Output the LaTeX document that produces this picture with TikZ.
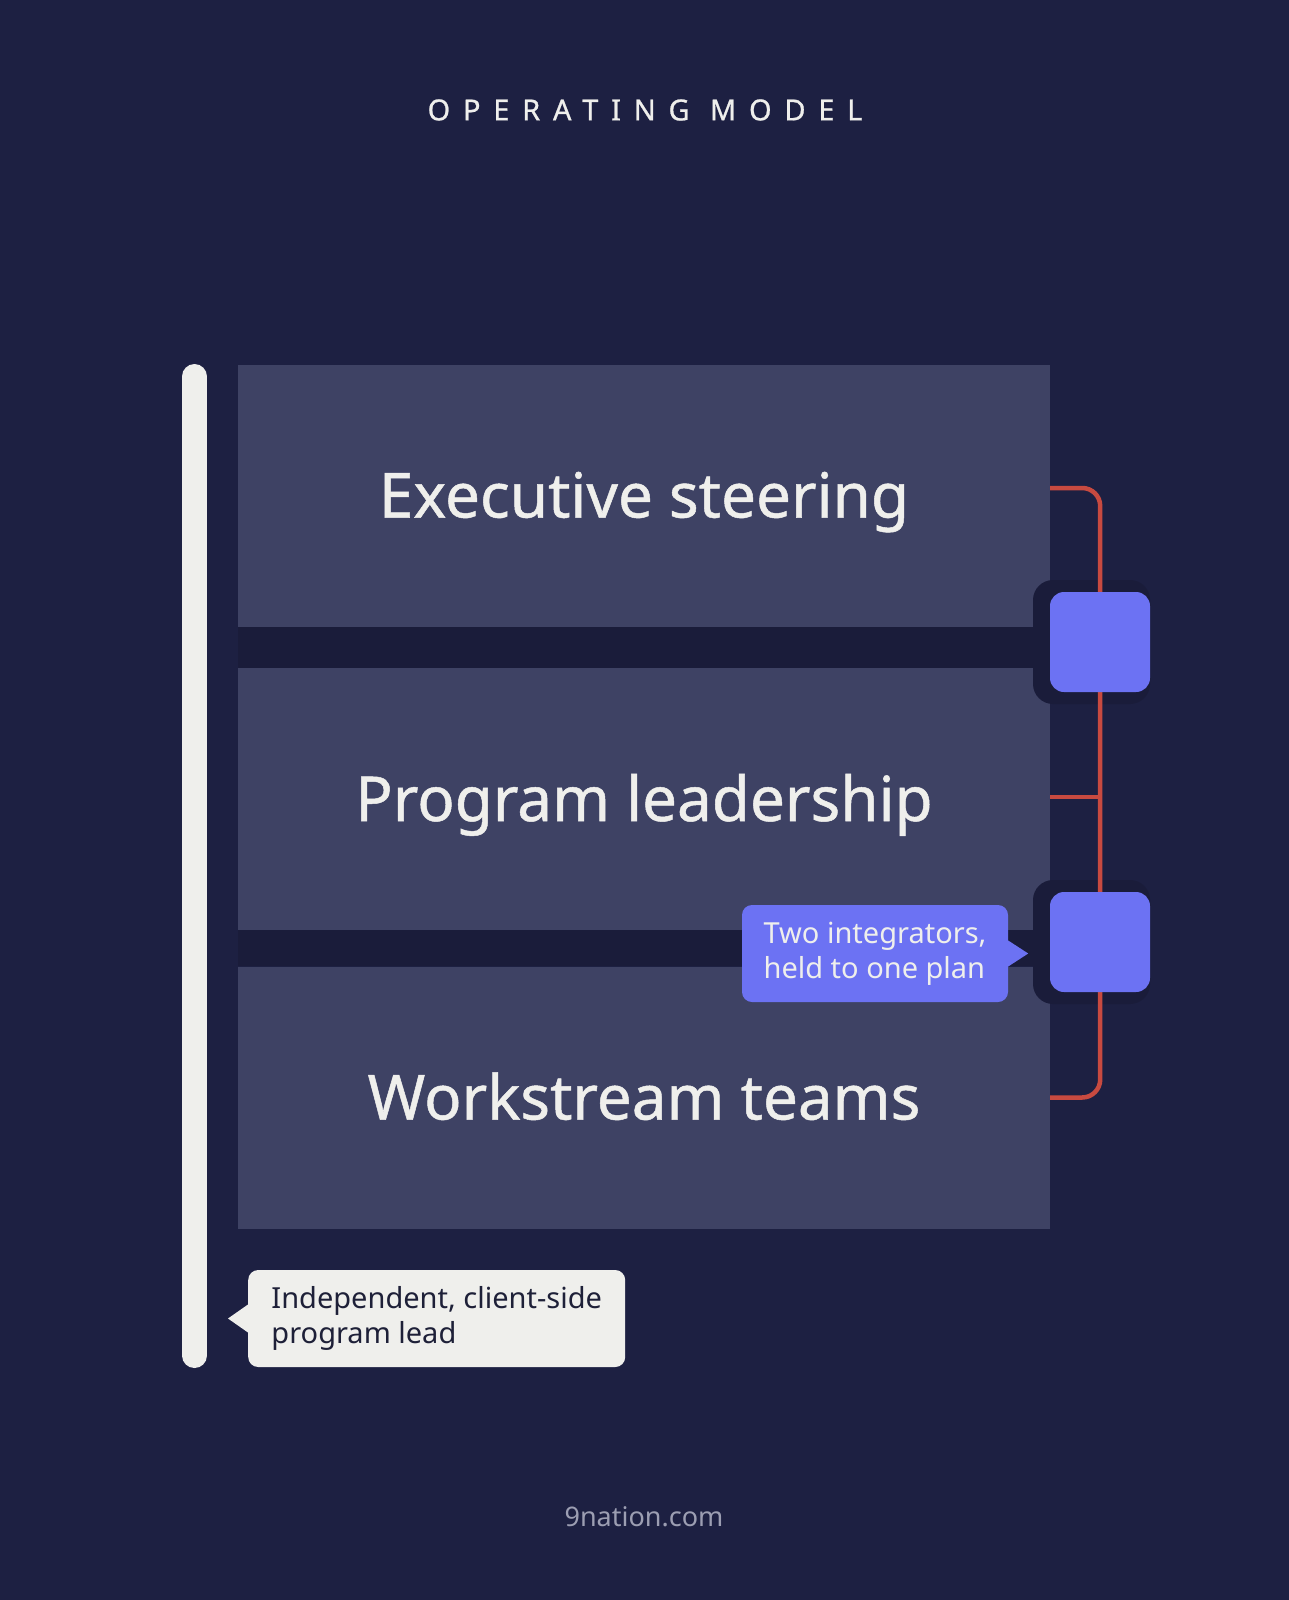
\documentclass[tikz,border=0pt]{standalone}
\usepackage{fontspec}
\setmainfont{Noto Sans}
\newfontfamily\Dtitlefont[LetterSpace=44,FakeBold=0.8]{Noto Sans}
\newfontfamily\Dpanelfont[FakeBold=0.8]{Noto Sans}
\usetikzlibrary{calc}
\definecolor{Cbg}{HTML}{1D2042}
\definecolor{Cpanel}{HTML}{3E4264}
\definecolor{Cgap}{HTML}{1A1C3A}
\definecolor{Cblue}{HTML}{6C72F3}
\definecolor{Cred}{HTML}{C84A40}
\definecolor{Cwhite}{HTML}{EFEFEC}
\definecolor{Cink}{HTML}{1E2038}
\definecolor{Cgray}{HTML}{9C9EB2}
\tikzset{%
    Dpanel/.style={fill=Cpanel, minimum width=812pt, minimum height=262pt, inner sep=0pt,
        text=Cwhite, text height=44pt, text depth=0pt, font=\Dpanelfont\fontsize{62}{68}\selectfont},
    Dsquare/.style={fill=Cblue, rounded corners=14pt, minimum size=100pt, inner sep=0pt},
    Dhalo/.style={fill=Cgap, rounded corners=20pt},
    Dlink/.style={draw=Cred, line width=4.5pt, rounded corners=18pt},
    Dbar/.style={draw=Cwhite, line width=25pt, line cap=round},
    Dnote/.style={fill=#1, rounded corners=10pt, inner xsep=0pt, inner ysep=0pt,
        minimum height=97pt, align=left, font=\fontsize{29}{35}\selectfont},
    Dnote/.default={Cwhite}
}

\begin{document}
\begin{tikzpicture}[x=1pt,y=-1pt]
    % page ("background")
    \fill [Cbg] (0,0) rectangle (1289,1600);
    \useasboundingbox (0,0) rectangle (1289,1600);

    \path
        (1100,642) coordinate (Cint1)
        (1100,942) coordinate (Cint2);

    % draw the three layers
    \node [Dpanel] (Nexec) at (644,495.5) {Executive steering};
    \node [Dpanel] (Nprog) at (644,799)   {Program leadership};
    \node [Dpanel] (Nwork) at (644,1097.5) {Workstream teams};

    % dark seams between layers
    \fill [Cgap] (Nexec.south west) rectangle (Nprog.north east);
    \fill [Cgap] (Nprog.south west) rectangle (Nwork.north east);

    % dark pads behind the integrators
    \foreach \c in {Cint1,Cint2}
        \fill [Dhalo] ($(\c)+(-67,-62)$) rectangle ($(\c)+(50,62)$);

    % red bracket tying the layers
    \draw [Dlink] ([yshift=7.5pt]Nexec.east) -- ++(50,0)
        -- ([xshift=50pt]Nwork.east) -- (Nwork.east);
    \draw [Dlink] ([yshift=2pt]Nprog.east) -- ++(50,0);

    % integrators
    \node [Dsquare] (Nint1) at (Cint1) {};
    \node [Dsquare] (Nint2) at (Cint2) {};

    % program lead bar
    \draw [Dbar] (194.5,376.5) coordinate (Nbartop) -- (194.5,1355.5) coordinate (Nbarend);

    % callouts
    \node [Dnote, text=Cink, minimum width=377pt, anchor=west] (Nlead) at (248,1318.5)
        {Independent, client-side\\program lead};
    \fill [Cwhite] (Nlead.west) ++(0,-14) -- ++(-20,14) -- ++(20,14) -- cycle;

    \node [Dnote=Cblue, text=Cwhite, minimum width=266pt] (Nplan) at (875,953.5)
        {Two integrators,\\held to one plan};
    \fill [Cblue] (Nplan.east) ++(0,-13) -- ++(20,13) -- ++(-20,13) -- cycle;

    % title and footer
    \node [text=Cwhite] (Ntitle) at (645,110)
        {\Dtitlefont\fontsize{29}{30}\selectfont OPERATING MODEL};
    \node [text=Cgray, font=\fontsize{27}{30}\selectfont] (Nsite) at (644,1517) {9nation.com};
\end{tikzpicture}
\end{document}
